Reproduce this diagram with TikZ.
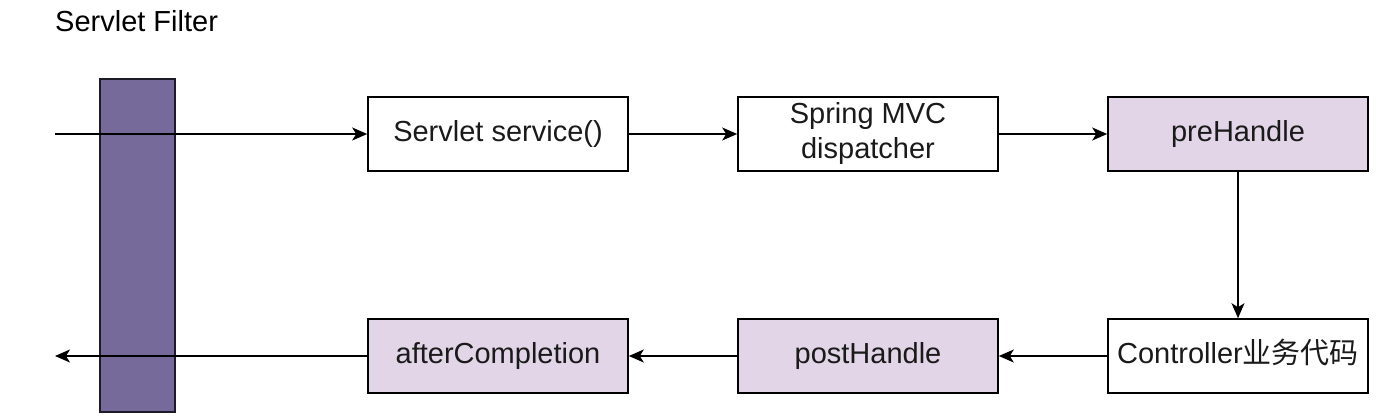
\documentclass[tikz,border=0pt]{standalone}
\usepackage{fontspec}
\setmainfont{Liberation Sans}
\newfontfamily\cjk{Noto Sans CJK SC}
\usetikzlibrary{arrows.meta}
\definecolor{barfill}{HTML}{766A9B}
\definecolor{barline}{HTML}{1E1A28}
\definecolor{lightpurple}{HTML}{E1D5E7}
\definecolor{txt}{HTML}{1A1A1A}
\begin{document}
\begin{tikzpicture}[x=1pt,y=-1pt,
  stepbox/.style={draw=black,line width=1.6pt,minimum width=260pt,minimum height=74pt,
    inner sep=0pt,align=center,font=\fontsize{29}{35}\selectfont,text=txt},
  hl/.style={stepbox,fill=lightpurple},
  flow/.style={line width=1.5pt,-{Stealth[length=15pt,width=13pt,inset=4pt]}}]
\useasboundingbox (0,0) rectangle (1386,420);
\node[anchor=base west,inner sep=0pt,font=\fontsize{29}{35}\selectfont,text=black] (title) at (55,32) {Servlet Filter};
\node[draw=barline,fill=barfill,line width=1.6pt,minimum width=75pt,minimum height=333pt,inner sep=0pt] (bar) at (137.5,245.5) {};
\node[stepbox] (svc) at (498,134) {\strut Servlet service()};
\node[stepbox] (disp) at (868,134) {Spring MVC\\dispatcher};
\node[hl] (pre) at (1238,134) {\strut preHandle};
\node[stepbox] (ctrl) at (1238,356) {\strut Controller{\cjk 业务代码}};
\node[hl] (post) at (868,356) {\strut postHandle};
\node[hl] (after) at (498,356) {\strut afterCompletion};
\coordinate (in) at (55,134);
\coordinate (out) at (55,356);
\draw[flow] (in) -- (svc.west);
\draw[flow] (svc) -- (disp);
\draw[flow] (disp) -- (pre);
\draw[flow] (pre) -- (ctrl);
\draw[flow] (ctrl) -- (post);
\draw[flow] (post) -- (after);
\draw[flow] (after.west) -- (out);
\end{tikzpicture}
\end{document}
